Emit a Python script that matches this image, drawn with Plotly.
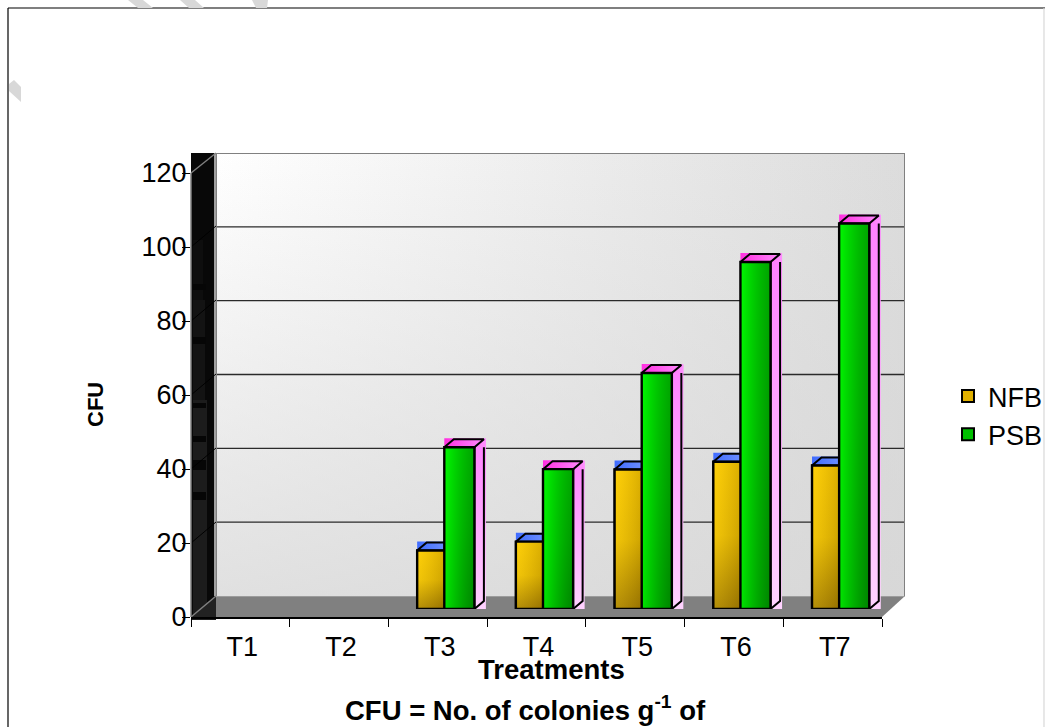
import plotly.graph_objects as go

categories = ["T1", "T2", "T3", "T4", "T5", "T6", "T7"]
nfb_values = [None, None, 15.8, 18.2, 37.7, 39.8, 38.8]
psb_values = [None, None, 43.7, 37.8, 63.8, 93.8, 104.2]
y_ticks = [0, 20, 40, 60, 80, 100, 120]
series_names = ["NFB", "PSB"]

W, H = 1045, 727
FONT = "Liberation Sans"
GAP = 0.42
BAR_W = (1 - GAP) / 2
PX_X = 98.7   # px per category
PX_Y = 3.7    # px per value unit
DX = 9.5 / PX_X
DY = 8 / PX_Y
PAD_X = 2 / PX_X
PAD_Y = 3 / PX_Y
OVERLAP = 1.5 / PX_X


def dx(a, b):
    return [a / W, b / W]


def dy(top, bottom):
    return [1 - bottom / H, 1 - top / H]


def poly(xs, ys, axes, grad=None, color=None, line=None, lw=0):
    tr = dict(x=xs + xs[:1], y=ys + ys[:1], xaxis=axes[0], yaxis=axes[1], mode="lines",
              showlegend=False, hoverinfo="skip")
    tr["line"] = dict(color=line, width=lw) if line else dict(width=0, color="rgba(0,0,0,0)")
    if grad:
        tr["fill"] = "toself"
        tr["fillgradient"] = grad
    elif color:
        tr["fill"] = "toself"
        tr["fillcolor"] = color
    else:
        tr["fill"] = "none"
    return go.Scatter(**tr)


def g(kind, *stops):
    n = len(stops) - 1
    return dict(type=kind, colorscale=[[i / n, c] for i, c in enumerate(stops)])


fig = go.Figure()

# back wall and its grid (axes x / y)
wall_x = [-0.5, 6.5, 6.5, -0.5]
wall_y = [0, 0, 120, 120]
fig.add_trace(poly(wall_x, wall_y, ("x", "y"), grad=g("horizontal", "#FFFFFF", "#DCDCDC")))
fig.add_trace(poly(wall_x, wall_y, ("x", "y"),
                   grad=g("vertical", "rgba(214,214,214,0.75)", "rgba(214,214,214,0)")))
for t in y_ticks[1:-1]:
    fig.add_trace(go.Scatter(x=[-0.5, 6.5], y=[t, t], xaxis="x", yaxis="y", mode="lines",
                             line=dict(color="#2a2a2a", width=1.3), showlegend=False,
                             hoverinfo="skip"))
fig.add_trace(go.Scatter(x=[-0.5, -0.5, 6.5, 6.5], y=[0, 120, 120, 0], xaxis="x", yaxis="y",
                         mode="lines", line=dict(color="#808080", width=2), showlegend=False,
                         hoverinfo="skip"))

# visible axes carry the category labels
fig.add_trace(go.Scatter(x=categories, y=[0] * len(categories), xaxis="x2", yaxis="y2",
                         mode="none", showlegend=False, hoverinfo="skip"))

# bars (axes x3 / y3, shifted to the front of the box)
index = list(range(len(categories)))
bar_styles = [
    dict(base="#E0B000", h0="rgba(255,230,60,0.15)", h1="rgba(60,40,0,0.2)",
         v=("#FFCC00", "#F0C000", "#A88000"), top0="#3F6CFF", top1="#7F9CFF",
         side0="#7F9CFF", side1="#C8D4FF"),
    dict(base="#00C000", h0="rgba(0,255,0,0.7)", h1="rgba(0,90,0,0.5)",
         v=("#00F000", "#00D800", "#00B000"), top0="#FF30E0", top1="#FF90FF",
         side0="#FF80FF", side1="#FFD4FF"),
]
series = [nfb_values, psb_values]
for name, vals, st in zip(series_names, series, bar_styles):
    fig.add_trace(go.Bar(name=name, x=index, y=vals, xaxis="x3", yaxis="y3",
                         marker=dict(color=st["base"], line=dict(color="#000000", width=2))))
for s, (vals, st) in enumerate(zip(series, bar_styles)):
    for i, v in zip(index, vals):
        if v is None:
            continue
        x0 = i - BAR_W + s * BAR_W - s * OVERLAP
        x1 = i + s * BAR_W
        # side and top faces
        fig.add_trace(poly([x1, x1 + DX + PAD_X, x1 + DX + PAD_X, x1],
                           [-PAD_Y, -PAD_Y, v + DY, v + DY], ("x3", "y3"),
                           grad=g("vertical", st["side1"], st["side0"])))
        fig.add_trace(poly([x1, x1 + DX, x1 + DX, x1], [0, DY, v + DY, v],
                           ("x3", "y3"), line="#000000", lw=2))
        fig.add_trace(poly([x0, x1 + DX + PAD_X, x1 + DX + PAD_X, x0],
                           [v, v, v + DY + PAD_Y / 3, v + DY + PAD_Y / 3], ("x3", "y3"),
                           grad=g("horizontal", st["top0"], st["top1"])))
        fig.add_trace(poly([x0, x0 + DX, x1 + DX, x1], [v, v + DY, v + DY, v],
                           ("x3", "y3"), line="#000000", lw=2))
        # front face
        fig.add_trace(poly([x0, x1, x1, x0], [0, 0, v, v], ("x3", "y3"),
                           grad=g("vertical", st["v"][2], st["v"][1], st["v"][0])))
        fig.add_trace(poly([x0, x1, x1, x0], [0, 0, v, v], ("x3", "y3"),
                           grad=g("horizontal", st["h0"], st["h1"]), line="#000000", lw=2.4))

shapes = []


def paper_poly(pts, fill, line=None, lw=0, layer="below"):
    path = "M" + "L".join(f"{x / W},{1 - y / H}" for x, y in pts) + "Z"
    shapes.append(dict(type="path", xref="paper", yref="paper", path=path, fillcolor=fill,
                       line=dict(color=line or "rgba(0,0,0,0)", width=lw), layer=layer))


def paper_line(x0, y0, x1, y1, color, lw=1, layer="below"):
    shapes.append(dict(type="line", xref="paper", yref="paper", x0=x0 / W, y0=1 - y0 / H,
                       x1=x1 / W, y1=1 - y1 / H, line=dict(color=color, width=lw), layer=layer))


def block(x0, y0, x1, y1, fill):
    paper_poly([(x0, y0), (x1, y0), (x1, y1), (x0, y1)], fill)


# chart frame and faint stripes
paper_line(8, 8, 1045, 8, "#000000", 1.2)
paper_line(8, 8, 8, 727, "#000000", 1.2)
paper_line(1044, 8, 1044, 727, "#d8d8d8", 1.2)
for pts in ([(128, 0), (143, 0), (153, 8), (138, 8)],
            [(180, 0), (195, 0), (204, 8), (189, 8)],
            [(252, 0), (268, 0), (267, 8), (256, 8)],
            [(9, 84), (14, 80), (21, 87), (21, 102), (9, 91)]):
    paper_poly(pts, "#d8d8d8")

# left wall with its dark mottling, floor
block(191, 153, 216, 620, "#080808")
block(193, 240, 203, 300, "#0e0e0e")
block(193, 300, 205, 400, "#131313")
block(193, 400, 207, 620, "#1c1c1c")
for top, bottom in ((284, 290), (337, 344), (403, 408), (436, 442),
                    (460, 470), (492, 500)):
    block(193, top, 206, bottom, "#060606")
block(214, 153, 216, 596, "#a0a0a0")
paper_poly([(191, 617), (216, 596), (216, 620), (191, 620)], "#222222")
for t in y_ticks[1:-1]:
    offset = t * PX_Y
    paper_line(191, 617 - offset, 216, 596 - offset, "#000000", 1)
paper_line(191, 173, 216, 153, "#808080", 1.5)
paper_line(191, 617, 216, 596, "#808080", 1.5)
paper_line(191, 173, 191, 617, "#808080", 1.5)
paper_poly([(216, 596), (905, 596), (882, 617), (216, 617)], "#808080")
paper_line(216, 596, 905, 596, "#a6a6a6", 1.5)

annotations = [
    dict(text="<b>Treatments</b>", x=551 / W, y=1 - 669 / H, xref="paper", yref="paper",
         showarrow=False, yanchor="middle", font=dict(size=27.5, family=FONT, color="#000000")),
    dict(text="<b>CFU = No. of colonies g<sup>-1</sup> of</b>", x=525 / W, y=1 - 708 / H,
         xref="paper", yref="paper", showarrow=False, yanchor="middle",
         font=dict(size=27.5, family=FONT, color="#000000")),
    dict(text="<b>CFU</b>", x=95 / W, y=1 - 405 / H, xref="paper", yref="paper", showarrow=False,
         xanchor="center", yanchor="middle", textangle=-90,
         font=dict(size=22, family=FONT, color="#000000")),
]

hidden = dict(visible=False, showgrid=False, zeroline=False)
fig.update_layout(
    width=W, height=H, margin=dict(l=0, r=0, t=0, b=0, autoexpand=False),
    paper_bgcolor="#FFFFFF", plot_bgcolor="rgba(0,0,0,0)",
    font=dict(family=FONT, size=27, color="#000000"),
    barmode="group", bargap=GAP, bargroupgap=0,
    shapes=shapes, annotations=annotations,
    showlegend=True,
    legend=dict(x=948 / W, y=1 - 372 / H, xanchor="left", yanchor="top",
                font=dict(size=27, family=FONT), bgcolor="rgba(0,0,0,0)",
                itemclick=False, itemdoubleclick=False, tracegroupgap=0),
    xaxis=dict(domain=dx(216, 905), range=[-0.5, 6.5], anchor="y", **hidden),
    yaxis=dict(domain=dy(153, 596), range=[0, 120], anchor="x", **hidden),
    xaxis2=dict(domain=dx(191, 882), type="category", categoryorder="array",
                categoryarray=categories, range=[-0.5, 6.5], anchor="y2", showgrid=False,
                zeroline=False, showline=True, linecolor="#000000", linewidth=1.5,
                ticks="outside", ticklen=8, tickwidth=1, tickcolor="#000000",
                tickson="boundaries", tickfont=dict(size=27, family=FONT),
                ticklabelstandoff=5, ticklabelshift=2),
    yaxis2=dict(domain=dy(173, 617), range=[0, 120], anchor="x2", tickvals=y_ticks,
                showgrid=False, zeroline=False, showline=False, ticks="outside", ticklen=8,
                tickwidth=1, tickcolor="#000000", tickfont=dict(size=27, family=FONT),
                ticklabelstandoff=-10),
    xaxis3=dict(domain=dx(199, 890), range=[-0.5, 6.5], anchor="y3", **hidden),
    yaxis3=dict(domain=dy(165, 609), range=[0, 120], anchor="x3", **hidden),
)

fig.write_html("out.html", config=dict(displayModeBar=False),
               post_script="document.body.style.margin='0';document.body.style.overflow='hidden';")
